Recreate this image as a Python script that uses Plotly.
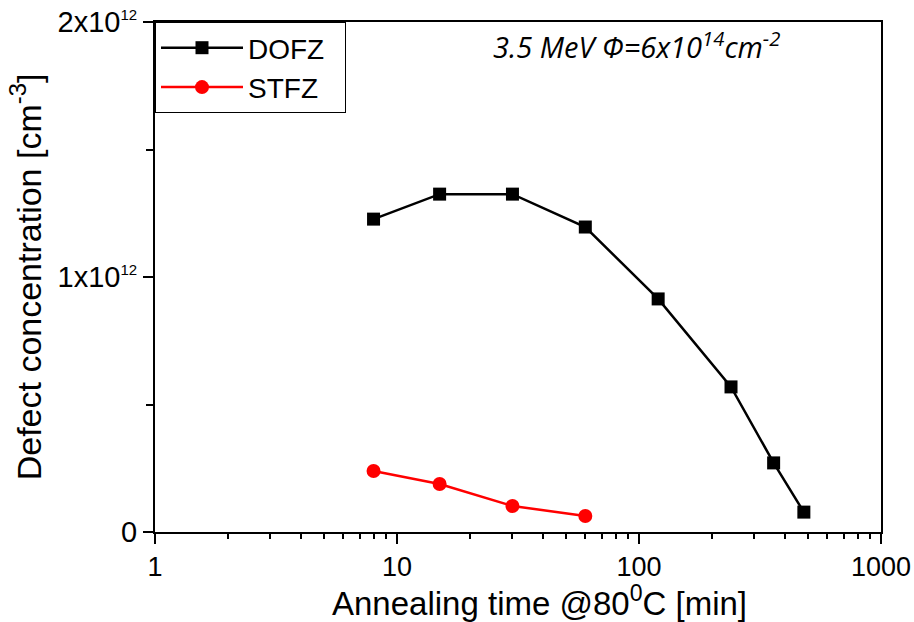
import plotly.graph_objects as go

time_dofz = [8, 15, 30, 60, 120, 240, 360, 480]
conc_dofz = [1.227e12, 1.325e12, 1.325e12, 1.196e12, 0.914e12, 0.569e12, 0.271e12, 0.078e12]
time_stfz = [8, 15, 30, 60]
conc_stfz = [0.239e12, 0.188e12, 0.102e12, 0.063e12]

sup = '<sup><span style="font-size:15px">12</span></sup>'
y_tickvals = [0, 1e12, 2e12]
y_ticktext = ["0", "1x10" + sup, "2x10" + sup]
x_tickvals = [1, 10, 100, 1000]
x_ticktext = ["1", "10", "100", "1000"]

fig = go.Figure()
fig.add_trace(go.Scatter(x=time_dofz, y=conc_dofz, mode="lines+markers", name="DOFZ&nbsp;&nbsp;",
                         line=dict(color="black", width=2.5),
                         marker=dict(symbol="square", size=13, color="black")))
fig.add_trace(go.Scatter(x=time_stfz, y=conc_stfz, mode="lines+markers", name="STFZ",
                         line=dict(color="#ff0000", width=2.5),
                         marker=dict(symbol="circle", size=14, color="#ff0000")))

fam = "Liberation Sans, Arial"
fig.update_layout(
    width=914, height=622,
    margin=dict(l=155, r=33, t=22, b=90),
    plot_bgcolor="white", paper_bgcolor="white",
    font=dict(family=fam, color="black"),
    showlegend=True,
    legend=dict(x=0, y=1, xanchor="left", yanchor="top", bordercolor="black", borderwidth=1,
                bgcolor="white", font=dict(size=28, family=fam),
                itemwidth=82, tracegroupgap=0),
    xaxis=dict(type="log", range=[0, 3], tickvals=x_tickvals, ticktext=x_ticktext,
               ticks="outside", ticklen=10, tickwidth=2, tickcolor="black",
               minor=dict(ticks="outside", ticklen=5, tickwidth=1.5, tickcolor="black",
                          tickvals=[2,3,4,5,6,7,8,9,20,30,40,50,60,70,80,90,200,300,400,500,600,700,800,900]),
               showline=True, linecolor="black", linewidth=2, mirror=True,
               showgrid=False, zeroline=False, automargin=False,
               tickfont=dict(family=fam, size=27, color="black")),
    yaxis=dict(range=[0, 2e12], tickvals=y_tickvals, ticktext=y_ticktext,
               ticks="outside", ticklen=10, tickwidth=2, tickcolor="black",
               minor=dict(ticks="outside", ticklen=7, tickwidth=1.5, tickcolor="black",
                          tickvals=[0.5e12, 1.5e12]),
               showline=True, linecolor="black", linewidth=2, mirror=True,
               showgrid=False, zeroline=False, automargin=False,
               tickfont=dict(family=fam, size=29, color="black"),
               title=dict(text="Defect concentration [cm<sup>-3</sup>]",
                          font=dict(size=34, family=fam), standoff=6)),
    annotations=[
        dict(x=0.663, y=0.955, xref="paper", yref="paper", xanchor="center", yanchor="middle",
             text="<i>3.5 MeV Φ=6x10<sup>14</sup>cm<sup>-2</sup></i>", showarrow=False,
             font=dict(size=29, family="Open Sans, Lato", color="black")),
        dict(x=0.53, y=-0.136, xref="paper", yref="paper", xanchor="center", yanchor="middle",
             text="Annealing time @80<sup>0</sup>C [min]", showarrow=False,
             font=dict(size=33, family=fam, color="black")),
    ],
)

fig.write_html("out.html")
